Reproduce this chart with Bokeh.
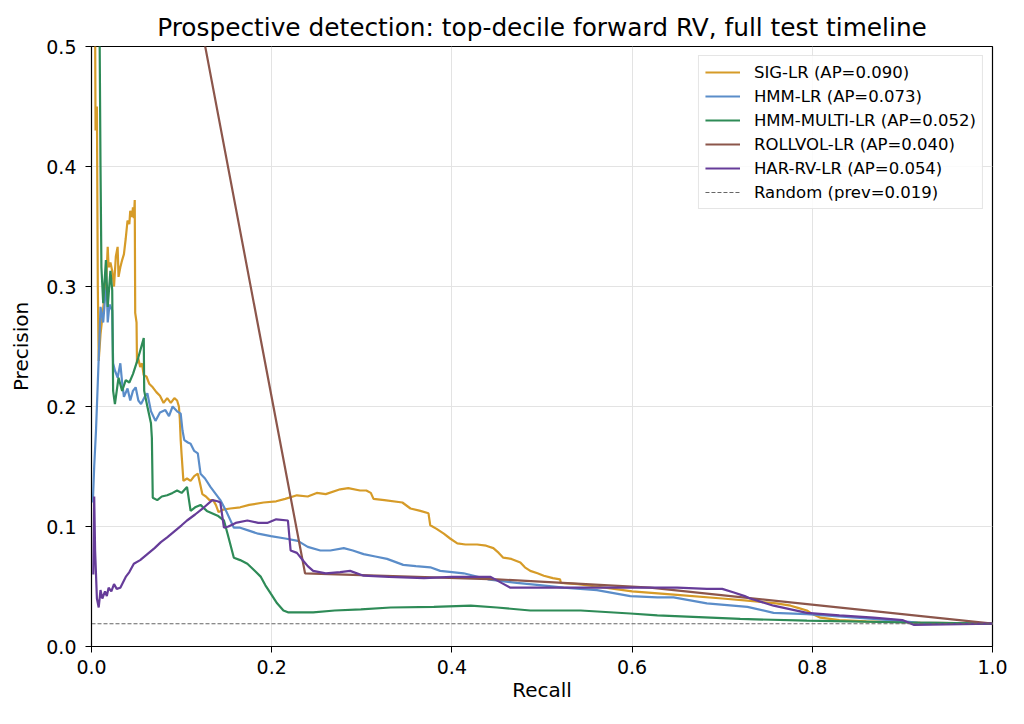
from bokeh.plotting import figure
from bokeh.models import Range1d, SingleIntervalTicker, Legend, LegendItem, NumeralTickFormatter
from bokeh.embed import file_html
from bokeh.resources import INLINE

# --- data (recall, precision) ---
sig_r = [0.000, 0.002, 0.004, 0.0045, 0.006, 0.007, 0.008, 0.010, 0.012, 0.014, 0.016, 0.018, 0.019,
         0.021, 0.023, 0.025, 0.027, 0.029, 0.030, 0.032, 0.034, 0.036, 0.038, 0.040, 0.042, 0.043,
         0.045, 0.046, 0.047, 0.048, 0.0485, 0.050, 0.0505, 0.052, 0.054, 0.056, 0.058, 0.061, 0.064,
         0.068, 0.072, 0.076, 0.080, 0.084, 0.088, 0.092, 0.095, 0.097, 0.098, 0.099, 0.100, 0.102,
         0.106, 0.110, 0.114, 0.118, 0.121, 0.123, 0.127, 0.131, 0.135, 0.138, 0.141, 0.146, 0.154,
         0.165, 0.175, 0.191, 0.205, 0.215, 0.228, 0.240, 0.250, 0.260, 0.276, 0.285, 0.298, 0.305,
         0.310, 0.313, 0.325, 0.345, 0.354, 0.365, 0.374, 0.376, 0.383, 0.391, 0.398, 0.406, 0.415,
         0.428, 0.438, 0.446, 0.452, 0.457, 0.466, 0.476, 0.481, 0.487, 0.495, 0.502, 0.512, 0.520,
         0.521, 0.540, 0.560, 0.580, 0.600, 0.650, 0.700, 0.731, 0.760, 0.776, 0.785, 0.794, 0.800,
         0.809, 0.830, 0.860, 0.920, 1.000]
sig_p = [1.000, 0.600, 0.520, 0.430, 0.450, 0.300, 0.238, 0.260, 0.274, 0.290, 0.300, 0.333, 0.316,
         0.320, 0.313, 0.300, 0.325, 0.333, 0.308, 0.316, 0.322, 0.327, 0.340, 0.355, 0.352, 0.363,
         0.358, 0.366, 0.357, 0.372, 0.278, 0.270, 0.236, 0.240, 0.233, 0.236, 0.226, 0.225, 0.219,
         0.216, 0.212, 0.209, 0.203, 0.207, 0.203, 0.207, 0.205, 0.200, 0.190, 0.172, 0.160, 0.138,
         0.140, 0.138, 0.142, 0.144, 0.134, 0.127, 0.125, 0.122, 0.122, 0.118, 0.112, 0.114, 0.115,
         0.116, 0.118, 0.120, 0.121, 0.123, 0.126, 0.125, 0.128, 0.127, 0.131, 0.132, 0.130, 0.130,
         0.128, 0.123, 0.122, 0.120, 0.115, 0.113, 0.111, 0.101, 0.098, 0.094, 0.090, 0.086, 0.085,
         0.085, 0.084, 0.082, 0.078, 0.074, 0.073, 0.070, 0.066, 0.063, 0.061, 0.059, 0.057, 0.056,
         0.053, 0.052, 0.050, 0.048, 0.046, 0.043, 0.040, 0.038, 0.036, 0.034, 0.032, 0.030, 0.027,
         0.024, 0.022, 0.021, 0.020, 0.019]

hmm_r = [0.0015, 0.003, 0.005, 0.007, 0.009, 0.010, 0.012, 0.013, 0.015, 0.017, 0.018, 0.020, 0.023,
         0.024, 0.026, 0.029, 0.032, 0.034, 0.036, 0.040, 0.043, 0.046, 0.049, 0.052, 0.055, 0.059,
         0.062, 0.066, 0.071, 0.076, 0.082, 0.086, 0.090, 0.095, 0.099, 0.101, 0.103, 0.107, 0.110,
         0.114, 0.118, 0.121, 0.126, 0.132, 0.138, 0.143, 0.150, 0.158, 0.165, 0.173, 0.185, 0.199,
         0.215, 0.229, 0.240, 0.254, 0.265, 0.280, 0.290, 0.302, 0.315, 0.328, 0.346, 0.360, 0.376,
         0.387, 0.413, 0.440, 0.472, 0.500, 0.524, 0.561, 0.598, 0.628, 0.646, 0.683, 0.728, 0.757,
         0.794, 0.830, 0.868, 0.917, 1.000]
hmm_p = [0.120, 0.150, 0.180, 0.220, 0.260, 0.283, 0.275, 0.270, 0.290, 0.300, 0.270, 0.285, 0.280,
         0.236, 0.230, 0.224, 0.236, 0.220, 0.208, 0.215, 0.205, 0.213, 0.216, 0.205, 0.202, 0.208,
         0.211, 0.196, 0.188, 0.195, 0.197, 0.192, 0.200, 0.196, 0.194, 0.180, 0.172, 0.170, 0.169,
         0.163, 0.161, 0.144, 0.140, 0.133, 0.127, 0.122, 0.112, 0.099, 0.099, 0.097, 0.094, 0.092,
         0.090, 0.088, 0.083, 0.080, 0.080, 0.082, 0.080, 0.077, 0.075, 0.073, 0.068, 0.067, 0.066,
         0.063, 0.061, 0.056, 0.053, 0.051, 0.049, 0.047, 0.042, 0.041, 0.041, 0.036, 0.033, 0.028,
         0.027, 0.025, 0.023, 0.020, 0.019]

multi_r = [0.008, 0.010, 0.011, 0.013, 0.016, 0.018, 0.021, 0.023, 0.024, 0.026, 0.030, 0.034, 0.038,
           0.042, 0.046, 0.052, 0.058, 0.0585, 0.062, 0.066, 0.067, 0.068, 0.073, 0.078, 0.084, 0.090,
           0.095, 0.100, 0.106, 0.110, 0.115, 0.121, 0.128, 0.140, 0.147, 0.151, 0.158, 0.165, 0.173,
           0.180, 0.188, 0.193, 0.199, 0.206, 0.213, 0.218, 0.246, 0.270, 0.299, 0.332, 0.380, 0.421,
           0.450, 0.487, 0.543, 0.598, 0.628, 0.720, 0.794, 0.906, 1.000]
multi_p = [0.620, 0.400, 0.316, 0.286, 0.322, 0.283, 0.313, 0.297, 0.213, 0.202, 0.224, 0.213, 0.222,
           0.220, 0.227, 0.241, 0.257, 0.213, 0.200, 0.186, 0.174, 0.124, 0.122, 0.125, 0.126, 0.128,
           0.130, 0.128, 0.133, 0.113, 0.116, 0.118, 0.113, 0.109, 0.105, 0.094, 0.074, 0.072, 0.069,
           0.064, 0.058, 0.051, 0.044, 0.036, 0.030, 0.0285, 0.0285, 0.030, 0.031, 0.0325, 0.033, 0.034,
           0.0325, 0.030, 0.030, 0.0275, 0.026, 0.023, 0.0215, 0.020, 0.019]

roll_r = [0.000, 0.237, 0.450, 0.620, 1.000]
roll_p = [1.000, 0.061, 0.056, 0.049, 0.019]

har_r = [0.002, 0.003, 0.004, 0.006, 0.008, 0.010, 0.012, 0.015, 0.017, 0.019, 0.022, 0.025, 0.028,
         0.032, 0.038, 0.042, 0.047, 0.054, 0.062, 0.070, 0.077, 0.084, 0.092, 0.100, 0.106, 0.115,
         0.125, 0.134, 0.140, 0.143, 0.147, 0.152, 0.160, 0.173, 0.185, 0.195, 0.205, 0.218, 0.221,
         0.228, 0.235, 0.240, 0.246, 0.260, 0.276, 0.287, 0.302, 0.330, 0.369, 0.400, 0.443, 0.455,
         0.465, 0.524, 0.598, 0.650, 0.683, 0.700, 0.713, 0.725, 0.731, 0.757, 0.794, 0.830, 0.868,
         0.900, 0.913, 1.000]
har_p = [0.060, 0.125, 0.080, 0.040, 0.0325, 0.047, 0.040, 0.046, 0.042, 0.049, 0.046, 0.052, 0.048,
         0.049, 0.058, 0.062, 0.069, 0.072, 0.077, 0.082, 0.087, 0.091, 0.096, 0.101, 0.105, 0.110,
         0.116, 0.122, 0.121, 0.120, 0.099, 0.100, 0.103, 0.105, 0.103, 0.103, 0.106, 0.105, 0.080,
         0.078, 0.0715, 0.067, 0.063, 0.061, 0.062, 0.063, 0.059, 0.058, 0.057, 0.058, 0.058, 0.053,
         0.049, 0.049, 0.049, 0.049, 0.048, 0.048, 0.045, 0.042, 0.040, 0.034, 0.028, 0.026, 0.024,
         0.022, 0.018, 0.019]

prevalence = 0.019

names = ["SIG-LR", "HMM-LR", "HMM-MULTI-LR", "ROLLVOL-LR", "HAR-RV-LR"]
ap_values = [0.090, 0.073, 0.052, 0.040, 0.054]
colors = ["#D69B28", "#5B8DC9", "#2E8B57", "#8C564B", "#663C99"]
curves = [(sig_r, sig_p), (hmm_r, hmm_p), (multi_r, multi_p), (roll_r, roll_p), (har_r, har_p)]

FONT = "DejaVu Sans"

p = figure(frame_width=901, frame_height=600,
           min_border_left=91, min_border_right=24, min_border_top=46, min_border_bottom=70,
           x_range=Range1d(0, 1), y_range=Range1d(0, 0.5),
           title="Prospective detection: top-decile forward RV, full test timeline",
           x_axis_label="Recall", y_axis_label="Precision",
           output_backend="svg", toolbar_location=None)

p.title.align = "center"
p.title.text_font = FONT
p.title.text_font_size = "24.8px"
p.title.text_font_style = "normal"
p.title.text_color = "black"
p.title.standoff = 9

p.outline_line_color = "black"
p.outline_line_width = 1.2
p.outline_line_alpha = 1

p.xaxis.ticker = SingleIntervalTicker(interval=0.2)
p.yaxis.ticker = SingleIntervalTicker(interval=0.1)
for ax in (p.xaxis, p.yaxis):
    ax.formatter = NumeralTickFormatter(format="0.0")
    ax.major_label_text_font = FONT
    ax.major_label_text_font_size = "19px"
    ax.major_label_text_color = "black"
    ax.axis_label_text_font = FONT
    ax.axis_label_text_font_size = "20px"
    ax.axis_label_text_font_style = "normal"
    ax.axis_label_text_color = "black"
    ax.axis_line_color = "black"
    ax.major_tick_line_color = "black"
    ax.major_tick_out = 6
    ax.major_tick_in = 0
    ax.minor_tick_line_color = None
p.xaxis.major_label_standoff = 7
p.xaxis.axis_label_standoff = 1
p.yaxis.major_label_standoff = 9
p.yaxis.axis_label_standoff = 10

p.xgrid.grid_line_color = "#e3e3e3"
p.ygrid.grid_line_color = "#e3e3e3"
p.xgrid.ticker = SingleIntervalTicker(interval=0.2)
p.ygrid.ticker = SingleIntervalTicker(interval=0.1)

items = []
for name, ap, col, (r, pr) in zip(names, ap_values, colors, curves):
    gl = p.line(r, pr, line_color=col, line_width=2.2)
    items.append(LegendItem(label=f"{name} (AP={ap:.3f})", renderers=[gl]))

rnd = p.line([0, 1], [prevalence, prevalence], line_color="#666666", line_width=1.1,
             line_dash="4 2")
items.append(LegendItem(label=f"Random (prev={prevalence:.3f})", renderers=[rnd]))

legend = Legend(items=items, location="top_right")
legend.label_text_font = FONT
legend.label_text_font_size = "16.5px"
legend.label_text_color = "black"
legend.glyph_width = 35
legend.label_standoff = 14
legend.spacing = 4
legend.padding = 6
legend.margin = 9
legend.label_height = 20
legend.glyph_height = 20
legend.border_line_color = "#cccccc"
legend.border_line_width = 1
legend.background_fill_alpha = 0.85
p.add_layout(legend)

open("out.html", "w").write(file_html(p, INLINE))
